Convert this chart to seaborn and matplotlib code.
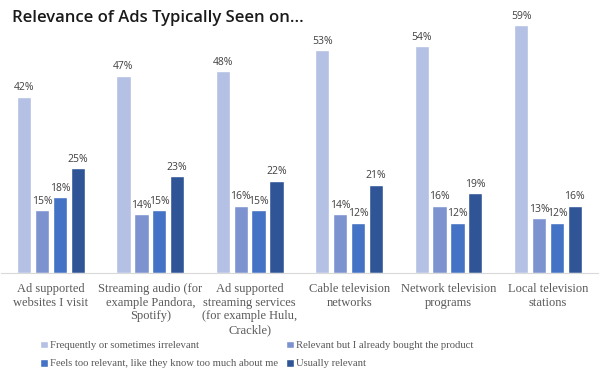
import pandas as pd
import matplotlib.pyplot as plt
import seaborn as sns

# Categories (x axis) and the four response series, values in percent
categories = [
    "Ad supported\nwebsites I visit",
    "Streaming audio (for\nexample Pandora,\nSpotify)",
    "Ad supported\nstreaming services\n(for example Hulu,\nCrackle)",
    "Cable television\nnetworks",
    "Network television\nprograms",
    "Local television\nstations",
]
series_names = [
    "Frequently or sometimes irrelevant",
    "Relevant but I already bought the product",
    "Feels too relevant, like they know too much about me",
    "Usually relevant",
]
irrelevant = [42, 47, 48, 53, 54, 59]
already_bought = [15, 14, 16, 14, 16, 13]
too_relevant = [18, 15, 15, 12, 12, 12]
usually_relevant = [25, 23, 22, 21, 19, 16]

colors = ["#b4c0e4", "#7d93d0", "#4472c4", "#2f5597"]

values = [irrelevant, already_bought, too_relevant, usually_relevant]
df = pd.DataFrame(
    [(cat, name, vals[i])
     for name, vals in zip(series_names, values)
     for i, cat in enumerate(categories)],
    columns=["category", "series", "value"],
)

sns.set_style("white")
fig = plt.figure(figsize=(6, 3.75), dpi=100)
ax = fig.add_axes([0.002, 0.272, 0.994, 0.672])

sns.barplot(data=df, x="category", y="value", hue="series",
            hue_order=series_names, palette=colors, width=0.72, gap=0.2,
            saturation=1, ax=ax, legend=True)

# Value labels above bars
for container in ax.containers:
    ax.bar_label(container, fmt="%d%%", padding=2.5, fontsize=7.5,
                 color="#404040", family="Open Sans")

ax.set_ylim(0, 60)
ax.set_xlim(-0.5, 5.5)
ax.set_xlabel("")
ax.set_ylabel("")
ax.set_yticks([])
ax.tick_params(axis="x", length=0, pad=7)
for lab in ax.get_xticklabels():
    lab.set_family("Liberation Serif")
    lab.set_fontsize(9)
    lab.set_color("#595959")
    lab.set_linespacing(1.2)
for side in ["left", "right", "top"]:
    ax.spines[side].set_visible(False)
ax.spines["bottom"].set_color("#d9d9d9")

# Legend filled row by row, as in the original
handles, labels = ax.get_legend_handles_labels()
ax.get_legend().remove()
order = [0, 2, 1, 3]
leg = fig.legend([handles[i] for i in order], [labels[i] for i in order],
                 loc="upper left", bbox_to_anchor=(0.066, 0.092), ncol=2,
                 frameon=False, handlelength=0.75, handleheight=0.75,
                 handletextpad=0.25, columnspacing=0.7, labelspacing=0.8,
                 borderaxespad=0, borderpad=0,
                 prop={"family": "Liberation Serif", "size": 7.7})
for t in leg.get_texts():
    t.set_color("#595959")

fig.text(0.02, 0.952, "Relevance of Ads Typically Seen on...", fontsize=12,
         fontweight="semibold", family="Open Sans", color="#1a1a1a",
         va="center")

fig.savefig("out.png", dpi=100)
